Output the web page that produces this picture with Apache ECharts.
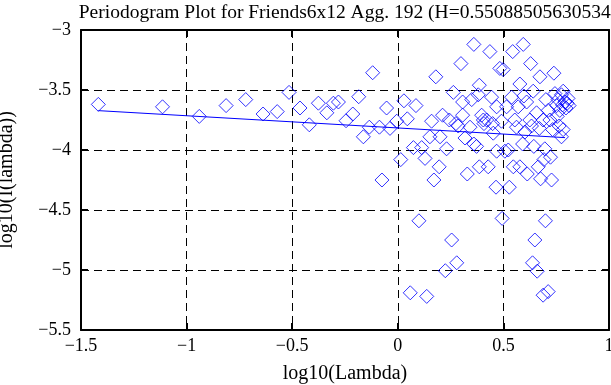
<!DOCTYPE html>
<html>
<head>
<meta charset="utf-8">
<script src="https://cdn.jsdelivr.net/npm/echarts@6/dist/echarts.min.js"></script>
<style>html,body{margin:0;padding:0;background:#fff}#c{width:611px;height:385px}</style>
</head>
<body>
<div id="c"></div>
<script>
const titleText = 'Periodogram Plot for Friends6x12 Agg. 192 (H=0.55088505630534)';
const xName = 'log10(Lambda)';
const yName = 'log10(I(lambda))';
const xTicks = [-1.5, -1, -0.5, 0, 0.5, 1];
const yTicks = [-5.5, -5, -4.5, -4, -3.5, -3];

const pointsX = [-1.418,-1.114,-0.94,-0.813,-0.72,-0.638,-0.571,-0.515,-0.463,-0.419,-0.376,-0.336,-0.305,-0.281,-0.245,-0.213,-0.185,-0.163,-0.135,-0.119,-0.087,-0.075,-0.053,-0.037,-0.005,0.014,0.029,0.045,0.074,0.086,0.113,0.129,0.152,0.16,0.18,0.171,0.196,0.2,0.212,0.231,0.244,0.263,0.275,0.286,0.299,0.307,0.307,0.318,0.329,0.342,0.35,0.36,0.36,0.373,0.381,0.386,0.386,0.397,0.405,0.408,0.421,0.428,0.436,0.444,0.449,0.452,0.465,0.468,0.468,0.483,0.491,0.499,0.507,0.515,0.523,0.528,0.539,0.544,0.547,0.554,0.562,0.570,0.578,0.578,0.591,0.594,0.597,0.602,0.610,0.613,0.625,0.629,0.633,0.641,0.644,0.657,0.665,0.67,0.673,0.676,0.688,0.692,0.696,0.701,0.712,0.720,0.723,0.728,0.733,0.739,0.744,0.752,0.755,0.759,0.764,0.767,0.775,0.780,0.783,0.791,0.796,0.802,0.806,0.811,0.783,0.775,0.100,0.255,0.279,0.225,0.059,0.137,0.494,0.699,0.649,0.638,0.66,0.688,0.712];
const pointsY = [-3.62,-3.64,-3.72,-3.63,-3.58,-3.70,-3.68,-3.52,-3.65,-3.79,-3.61,-3.69,-3.61,-3.60,-3.756,-3.70,-3.556,-3.89,-3.81,-3.356,-3.81,-4.25,-3.65,-3.82,-3.76,-4.08,-3.59,-3.74,-3.98,-3.63,-3.98,-4.07,-3.89,-3.76,-3.39,-4.25,-4.14,-3.89,-3.71,-3.99,-3.75,-3.52,-3.78,-3.80,-3.28,-3.60,-3.71,-3.90,-4.20,-3.81,-3.58,-3.12,-3.95,-3.97,-3.54,-3.46,-4.14,-3.71,-3.75,-3.78,-3.75,-4.14,-3.18,-3.56,-3.78,-3.86,-4.31,-3.64,-4.01,-3.32,-3.76,-3.33,-4.01,-3.64,-4.0,-4.31,-3.56,-3.18,-4.14,-3.75,-3.81,-3.64,-3.45,-4.14,-3.95,-3.12,-3.55,-3.85,-3.60,-4.20,-3.75,-3.28,-3.80,-3.51,-3.97,-3.69,-4.14,-3.82,-3.39,-4.24,-3.75,-4.08,-3.99,-3.58,-3.67,-3.75,-4.06,-4.25,-3.83,-3.36,-3.53,-3.63,-3.72,-3.58,-3.80,-3.67,-3.54,-3.625,-3.51,-3.60,-3.65,-3.61,-3.57,-3.63,-3.83,-3.89,-4.59,-4.75,-4.94,-5.006,-5.19,-5.22,-4.57,-4.59,-4.75,-4.94,-5.01,-5.21,-5.18];

const fitX = [-1.418, 0.792];
const fitY = [-3.672, -3.897];

const fmt = v => String(v).replace('-', '\u2212');
const FONT = 'Liberation Serif';

const chart = echarts.init(document.getElementById('c'));
const gridLine = {show: true, lineStyle: {color: '#000', type: [8, 5], width: 1}};
const boxLine = {show: true, onZero: false, lineStyle: {color: '#000', width: 2}};
const tick = {show: true, inside: true, length: 7, lineStyle: {color: '#000', width: 2}};
chart.setOption({
  animation: false,
  backgroundColor: '#fff',
  title: {
    text: titleText, left: 343, top: -2, textAlign: 'center',
    textStyle: {fontFamily: FONT, fontSize: 19.5, fontWeight: 'normal', color: '#000'}
  },
  grid: {left: 81, right: 2, top: 30, bottom: 55, containLabel: false, outerBoundsMode: 'none'},
  xAxis: [{
    type: 'value', min: -1.5, max: 1, interval: 0.5,
    name: xName, nameLocation: 'middle', nameGap: 34,
    nameTextStyle: {fontFamily: FONT, fontSize: 20, color: '#000'},
    axisLine: boxLine, axisTick: tick,
    axisLabel: {fontFamily: FONT, fontSize: 18, color: '#000', margin: 7, formatter: fmt},
    splitLine: gridLine
  }, {
    type: 'value', position: 'top', min: -1.5, max: 1, interval: 0.5,
    axisLine: boxLine, axisTick: tick,
    axisLabel: {show: false}, splitLine: {show: false}
  }],
  yAxis: [{
    type: 'value', min: -5.5, max: -3, interval: 0.5,
    name: yName, nameLocation: 'middle', nameGap: 64, nameRotate: 90,
    nameTextStyle: {fontFamily: FONT, fontSize: 20, color: '#000'},
    axisLine: boxLine, axisTick: tick,
    axisLabel: {fontFamily: FONT, fontSize: 18, color: '#000', margin: 10, formatter: fmt},
    splitLine: gridLine
  }, {
    type: 'value', position: 'right', min: -5.5, max: -3, interval: 0.5,
    axisLine: boxLine, axisTick: tick,
    axisLabel: {show: false}, splitLine: {show: false}
  }],
  series: [{
    type: 'scatter', symbol: 'diamond', symbolSize: 14,
    itemStyle: {color: 'rgba(0,0,0,0)', borderColor: '#0000ff', borderWidth: 1},
    data: pointsX.map((x, i) => [x, pointsY[i]])
  }, {
    type: 'line', showSymbol: false, symbol: 'none',
    lineStyle: {color: '#0000ff', width: 1},
    data: fitX.map((x, i) => [x, fitY[i]])
  }]
});
</script>
</body>
</html>
